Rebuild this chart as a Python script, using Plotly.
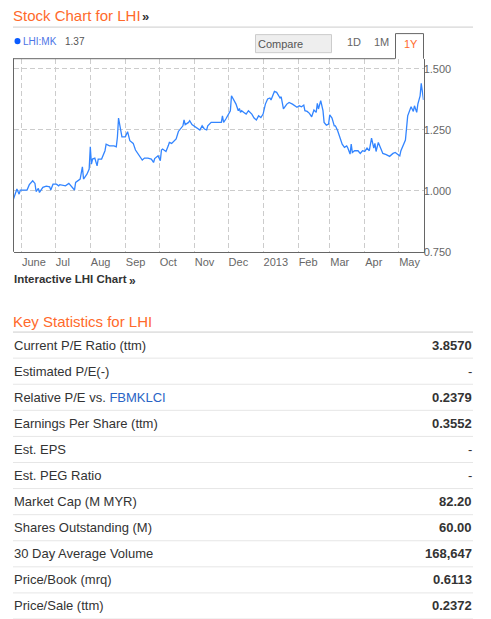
import plotly.graph_objects as go

# price series (LHI:MK, 1Y)
dates = [
    "2012-05-25", "2012-05-28", "2012-05-30", "2012-05-31", "2012-06-06", "2012-06-08",
    "2012-06-11", "2012-06-13", "2012-06-14", "2012-06-16", "2012-06-17", "2012-06-20",
    "2012-06-23", "2012-06-26", "2012-06-27", "2012-06-29", "2012-07-02", "2012-07-04",
    "2012-07-05", "2012-07-10", "2012-07-13", "2012-07-16", "2012-07-18", "2012-07-19",
    "2012-07-21", "2012-07-23", "2012-07-25", "2012-07-26", "2012-07-29", "2012-07-31",
    "2012-08-01", "2012-08-02", "2012-08-03", "2012-08-05", "2012-08-07", "2012-08-08",
    "2012-08-11", "2012-08-14", "2012-08-15", "2012-08-18", "2012-08-22", "2012-08-24",
    "2012-08-25", "2012-08-26", "2012-08-28", "2012-08-29", "2012-09-01", "2012-09-03",
    "2012-09-05", "2012-09-08", "2012-09-10", "2012-09-14", "2012-09-16", "2012-09-18",
    "2012-09-21", "2012-09-24", "2012-09-26", "2012-09-27", "2012-09-30", "2012-10-02",
    "2012-10-03", "2012-10-04", "2012-10-07", "2012-10-09", "2012-10-10", "2012-10-12",
    "2012-10-15", "2012-10-16", "2012-10-18", "2012-10-20", "2012-10-22", "2012-10-23",
    "2012-10-24", "2012-10-27", "2012-10-28", "2012-10-30", "2012-11-02", "2012-11-04",
    "2012-11-06", "2012-11-08", "2012-11-10", "2012-11-12", "2012-11-13", "2012-11-16",
    "2012-11-21", "2012-11-25", "2012-11-26", "2012-11-27", "2012-11-29", "2012-12-01",
    "2012-12-03", "2012-12-04", "2012-12-06", "2012-12-08", "2012-12-10", "2012-12-11",
    "2012-12-12", "2012-12-13", "2012-12-15", "2012-12-17", "2012-12-19", "2012-12-22",
    "2012-12-24", "2012-12-26", "2012-12-28", "2012-12-30", "2013-01-01", "2013-01-03",
    "2013-01-05", "2013-01-07", "2013-01-08", "2013-01-11", "2013-01-13", "2013-01-14",
    "2013-01-16", "2013-01-17", "2013-01-19", "2013-01-22", "2013-01-24", "2013-01-27",
    "2013-01-31", "2013-02-02", "2013-02-04", "2013-02-06", "2013-02-07", "2013-02-09",
    "2013-02-11", "2013-02-13", "2013-02-15", "2013-02-17", "2013-02-18", "2013-02-19",
    "2013-02-21", "2013-02-23", "2013-02-24", "2013-02-26", "2013-02-28", "2013-03-01",
    "2013-03-03", "2013-03-05", "2013-03-06", "2013-03-08", "2013-03-10", "2013-03-12",
    "2013-03-14", "2013-03-16", "2013-03-17", "2013-03-19", "2013-03-20", "2013-03-21",
    "2013-03-23", "2013-03-26", "2013-03-28", "2013-03-30", "2013-04-01", "2013-04-03",
    "2013-04-05", "2013-04-07", "2013-04-09", "2013-04-10", "2013-04-11", "2013-04-13",
    "2013-04-15", "2013-04-17", "2013-04-20", "2013-04-23", "2013-04-26", "2013-04-28",
    "2013-04-30", "2013-05-02", "2013-05-03", "2013-05-06", "2013-05-07", "2013-05-09",
    "2013-05-11", "2013-05-12", "2013-05-14", "2013-05-15", "2013-05-17", "2013-05-18",
    "2013-05-20", "2013-05-21", "2013-05-23",
]
prices = [
    0.966, 1.007, 0.986, 1.003, 1.003, 1.025,
    1.041, 1.030, 0.997, 1.010, 0.993, 1.014,
    1.019, 1.016, 1.003, 1.027, 1.027, 1.020,
    1.025, 1.020, 1.030, 1.016, 1.003, 1.034,
    1.041, 1.048, 1.098, 1.048, 1.068, 1.089,
    1.180, 1.109, 1.130, 1.134, 1.102, 1.130,
    1.130, 1.164, 1.191, 1.184, 1.184, 1.180,
    1.219, 1.298, 1.246, 1.221, 1.221, 1.242,
    1.205, 1.194, 1.167, 1.143, 1.126, 1.134,
    1.134, 1.130, 1.116, 1.132, 1.143, 1.123,
    1.167, 1.171, 1.161, 1.184, 1.198, 1.194,
    1.205, 1.212, 1.243, 1.253, 1.266, 1.290,
    1.271, 1.280, 1.287, 1.271, 1.262, 1.253,
    1.249, 1.266, 1.253, 1.249, 1.266, 1.280,
    1.280, 1.280, 1.307, 1.280, 1.294, 1.314,
    1.328, 1.389, 1.372, 1.355, 1.328, 1.337,
    1.321, 1.328, 1.321, 1.314, 1.328, 1.314,
    1.298, 1.290, 1.307, 1.300, 1.314, 1.355,
    1.376, 1.380, 1.372, 1.407, 1.403, 1.396,
    1.380, 1.385, 1.335, 1.355, 1.362, 1.355,
    1.342, 1.348, 1.344, 1.351, 1.328, 1.325,
    1.317, 1.303, 1.331, 1.321, 1.358, 1.335,
    1.369, 1.328, 1.280, 1.269, 1.273, 1.311,
    1.298, 1.266, 1.266, 1.246, 1.219, 1.191,
    1.178, 1.184, 1.175, 1.150, 1.191, 1.157,
    1.164, 1.164, 1.153, 1.164, 1.161, 1.175,
    1.164, 1.216, 1.175, 1.194, 1.161, 1.198,
    1.175, 1.153, 1.148, 1.141, 1.153, 1.157,
    1.150, 1.143, 1.164, 1.202, 1.208, 1.307,
    1.328, 1.344, 1.325, 1.348, 1.321, 1.355,
    1.389, 1.440, 1.372,
]

month_ticks = ["2012-06-01", "2012-07-01", "2012-08-01", "2012-09-01", "2012-10-01", "2012-11-01",
               "2012-12-01", "2013-01-01", "2013-02-01", "2013-03-01", "2013-04-01", "2013-05-01"]
month_names = ["June", "Jul", "Aug", "Sep", "Oct", "Nov", "Dec", "2013", "Feb", "Mar", "Apr", "May"]
price_ticks = [0.75, 1.0, 1.25, 1.5]

stat_labels = [
    "Current P/E Ratio (ttm)",
    "Estimated P/E(-)",
    "Relative P/E vs. <span style='color:#2a64c5'>FBMKLCI</span>",
    "Earnings Per Share (ttm)",
    "Est. EPS",
    "Est. PEG Ratio",
    "Market Cap (M MYR)",
    "Shares Outstanding (M)",
    "30 Day Average Volume",
    "Price/Book (mrq)",
    "Price/Sale (ttm)",
]
stat_values = ["3.8570", "-", "0.2379", "0.3552", "-", "-", "82.20", "60.00", "168,647", "0.6113", "0.2372"]

# layout is laid out on a 491x619 grid; the page is drawn a little taller
# because the screenshot squeezes the viewport height into 619 px
W, H = 491, 619
FIG_H = 627
FONT = "Arial, Liberation Sans, sans-serif"
ORANGE = "#ff6a2b"


def fx(px):
    return px / W


def fy(py):
    return 1 - py / H


fig = go.Figure()
fig.add_trace(go.Scatter(
    x=dates, y=prices, mode="lines",
    line=dict(color="#3385ff", width=1.3),
    hoverinfo="x+y",
))

shapes = []
annotations = []


def hline(x0, x1, y, color, width=1):
    shapes.append(dict(type="line", xref="paper", yref="paper",
                       x0=fx(x0), x1=fx(x1), y0=fy(y), y1=fy(y),
                       line=dict(color=color, width=width)))


def text(x, y, s, size=13, color="#333", anchor="left"):
    annotations.append(dict(xref="paper", yref="paper", x=fx(x), y=fy(y), text=s,
                            showarrow=False, xanchor=anchor, yanchor="middle",
                            font=dict(family=FONT, size=size, color=color)))


# header of the chart block
text(11, 15, "Stock Chart for LHI", 15, ORANGE)
text(140, 16, "<b>»</b>", 13, "#333")
hline(13, 473, 27, "#cccccc")

# series label
shapes.append(dict(type="circle", xref="paper", yref="paper",
                   x0=fx(14.5), x1=fx(20.5), y0=fy(38), y1=fy(44),
                   fillcolor="#0b5cff", line=dict(width=0)))
text(21, 41, "LHI:MK", 10, "#4d74e6")
text(63, 41, "1.37", 10, "#555")

# compare box and range buttons
shapes.append(dict(type="rect", xref="paper", yref="paper",
                   x0=fx(255.5), x1=fx(331.5), y0=fy(34.5), y1=fy(52.5),
                   fillcolor="#eeeeee", line=dict(color="#cccccc", width=1)))
text(256, 44, "Compare", 11, "#555")
text(345, 42, "1D", 11, "#666")
text(372, 42, "1M", 11, "#666")
text(402, 44, "1Y", 11, ORANGE)

# plot frame: top border with the open "1Y" tab
hline(13, 395, 58.5, "#666666")
shapes.append(dict(type="path", xref="paper", yref="paper",
                   path="M {} {} L {} {} L {} {} L {} {}".format(
                       fx(395.5), fy(58.5), fx(395.5), fy(33.5),
                       fx(423.5), fy(33.5), fx(423.5), fy(58.5)),
                   line=dict(color="#666666", width=1)))

text(12, 278, "<b>Interactive LHI Chart</b>", 11.5, "#333")
text(127, 280, "<b>»</b>", 12, "#333")

# key statistics block
text(11, 320, "Key Statistics for LHI", 15, ORANGE)
hline(13, 473, 331, "#cccccc")
for i, (lab, val) in enumerate(zip(stat_labels, stat_values)):
    yc = 344 + 26 * i
    text(12, yc, lab, 13, "#333")
    text(474, yc, "<b>" + val + "</b>" if val != "-" else val, 13, "#333", "right")
    hline(13, 473, yc + 13, "#e6e6e6")

fig.update_layout(
    width=W, height=FIG_H, autosize=False,
    margin=dict(l=0, r=0, t=0, b=0),
    paper_bgcolor="white", plot_bgcolor="white",
    showlegend=False,
    shapes=shapes, annotations=annotations,
    font=dict(family=FONT),
)
fig.update_xaxes(
    domain=[fx(13.5), fx(423.5)],
    range=["2012-05-25", "2013-05-23"],
    tickvals=month_ticks, ticktext=month_names,
    ticks="", ticklabelposition="outside right",
    tickfont=dict(size=11, color="#666"),
    showgrid=True, gridcolor="#cccccc", griddash="5px,3px", gridwidth=1,
    showline=True, linecolor="#666666", linewidth=1,
    zeroline=False, fixedrange=True,
)
fig.update_yaxes(
    domain=[fy(251), fy(58.5)],
    range=[0.75, 1.541],
    side="right",
    tickvals=price_ticks, tickformat=".3f",
    ticks="", ticklabelstandoff=-3,
    tickfont=dict(size=11, color="#666"),
    showgrid=True, gridcolor="#cccccc", griddash="5px,3px", gridwidth=1,
    showline=True, linecolor="#666666", linewidth=1,
    zeroline=False, fixedrange=True,
)
# left edge of the frame
fig.add_shape(type="line", xref="paper", yref="paper",
              x0=fx(13.5), x1=fx(13.5), y0=fy(58.5), y1=fy(251),
              line=dict(color="#666666", width=1))

# drop the page's default body margin so the figure sits at the window corner
page_js = ("document.documentElement.style.overflow='hidden';"
           "document.body.style.margin='0';"
           "document.body.style.overflow='hidden';")
fig.write_html("out.html", config={"displayModeBar": False}, post_script=page_js)
